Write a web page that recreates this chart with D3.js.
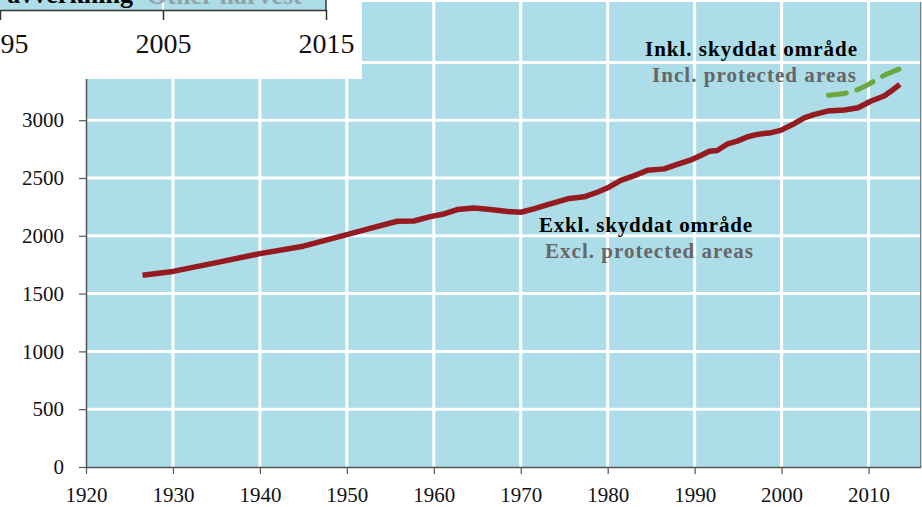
<!DOCTYPE html>
<html><head><meta charset="utf-8">
<script src="https://cdn.jsdelivr.net/npm/d3@7/dist/d3.min.js"></script>
<style>html,body{margin:0;padding:0;background:#fff;}svg{display:block;}</style>
</head><body>
<svg id="c" width="922" height="507"></svg>
<script>
// ---- data ----
const exklYears = [1926.5,1930,1935,1940,1945,1950,1953,1955.8,1957.7,1959.6,1961,1962.7,1964.6,1966.5,1968.5,1970,1971.5,1973.1,1975.4,1977.3,1978.8,1980,1981.5,1983,1984.6,1986.5,1988,1989.5,1990.7,1991.7,1992.6,1993.8,1994.9,1996.1,1997.2,1998.8,1999.9,2001.5,2002.6,2003.8,2005.3,2007.2,2008.8,2010.3,2011.8,2012.6,2013.6];
const exklValues = [1658,1692,1768,1846,1910,2010,2070,2126,2128,2166,2186,2227,2241,2227,2210,2204,2233,2270,2320,2337,2377,2415,2480,2518,2567,2579,2617,2654,2695,2732,2738,2796,2819,2857,2877,2892,2912,2972,3021,3050,3079,3088,3108,3166,3209,3252,3310];
const inklYears = [2005.4,2007,2008,2009,2010,2011,2012,2013.5];
const inklValues = [3215,3228,3245,3272,3310,3355,3395,3442];
const xTicks = [1920,1930,1940,1950,1960,1970,1980,1990,2000,2010];
const yTicks = [0,500,1000,1500,2000,2500,3000];
const yGrid = [500,1000,1500,2000,2500,3000,3500];
const insetTicks = [1995,2005,2015];
const labels = {
  inklSv: "Inkl. skyddat område", inklEn: "Incl. protected areas",
  exklSv: "Exkl. skyddat område", exklEn: "Excl. protected areas",
  insetSv: "avverkning", insetEn: "Other harvest"
};

const svg = d3.select("#c");
const font = "'Liberation Serif','Times New Roman',serif";
const x = d3.scaleLinear().domain([1920, 2016]).range([86, 920.7]);
const y = d3.scaleLinear().domain([0, 4000]).range([467, 4.6]);

// plot background
svg.append("rect").attr("x", x(1920)).attr("y", 2).attr("width", x(2016)-x(1920)).attr("height", y(0)-2).attr("fill", "#acdde8");

// grid
svg.append("g").selectAll("line").data(xTicks.slice(1)).join("line")
  .attr("x1", d=>x(d)).attr("x2", d=>x(d)).attr("y1", 2).attr("y2", y(0))
  .attr("stroke", "#fff").attr("stroke-width", 3);
svg.append("g").selectAll("line").data(yGrid).join("line")
  .attr("x1", x(1920)).attr("x2", x(2016)).attr("y1", d=>y(d)).attr("y2", d=>y(d))
  .attr("stroke", "#fff").attr("stroke-width", 3);

// right border
svg.append("line").attr("x1", x(2016)).attr("x2", x(2016)).attr("y1", 2).attr("y2", y(0))
  .attr("stroke", "#6b7a80").attr("stroke-width", 1.2);

// lines
const line = d3.line().x(d=>x(d[0])).y(d=>y(d[1])).curve(d3.curveLinear);
svg.append("path").datum(exklYears.map((v,i)=>[v, exklValues[i]]))
  .attr("d", line).attr("fill", "none").attr("stroke", "#951b21").attr("stroke-width", 5.5)
  .attr("stroke-linejoin", "round");
svg.append("path").datum(inklYears.map((v,i)=>[v, inklValues[i]]))
  .attr("d", line).attr("fill", "none").attr("stroke", "#6ea73f").attr("stroke-width", 5)
  .attr("stroke-dasharray", "18,11").attr("stroke-linecap", "round");

// axes
const ax = svg.append("g").attr("transform", `translate(0,${y(0)})`)
  .call(d3.axisBottom(x).tickValues(xTicks).tickFormat(d3.format("d")).tickSize(7).tickSizeOuter(0));
ax.select(".domain").attr("stroke", "#555").attr("stroke-width", 1.5);
ax.selectAll(".tick line").attr("stroke", "#555").attr("stroke-width", 1.2);
ax.selectAll("text").attr("y", 35).attr("dy", null).attr("font-family", font).attr("font-size", 21).attr("fill", "#111");

const ay = svg.append("g").attr("transform", `translate(${x(1920)},0)`)
  .call(d3.axisLeft(y).tickValues(yTicks).tickFormat(d3.format("d")).tickSize(7).tickPadding(15).tickSizeOuter(0));
ay.select(".domain").attr("stroke", "#555").attr("stroke-width", 1.5);
ay.selectAll(".tick line").attr("stroke", "#555").attr("stroke-width", 1.2);
ay.selectAll("text").attr("font-family", font).attr("font-size", 21).attr("fill", "#111");

// annotations
function lab(t, xx, yy, col, w) {
  svg.append("text").attr("x", xx).attr("y", yy).text(t)
    .attr("font-family", font).attr("font-weight", "bold").attr("font-size", 21)
    .attr("fill", col).attr("textLength", w).attr("lengthAdjust", "spacing");
}
lab(labels.inklSv, 645, 56, "#000", 212);
lab(labels.inklEn, 652, 82, "#666", 204);
lab(labels.exklSv, 539, 232, "#000", 213);
lab(labels.exklEn, 545, 258, "#666", 208);

// inset fragment (top-left)
const ix = d3.scaleLinear().domain([1995, 2015]).range([0, 326]);
svg.append("rect").attr("x", 0).attr("y", 0).attr("width", 362).attr("height", 79).attr("fill", "#fff");
svg.append("rect").attr("x", 0).attr("y", 0).attr("width", ix(2015)).attr("height", 10).attr("fill", "#acdde8");
svg.append("line").attr("x1", ix(2005)).attr("x2", ix(2005)).attr("y1", 0).attr("y2", 10).attr("stroke", "#fff").attr("stroke-width", 2);
svg.append("text").attr("x", 133).attr("y", 3).attr("text-anchor", "end").text(labels.insetSv)
  .attr("font-family", font).attr("font-weight", "bold").attr("font-size", 26).attr("fill", "#000");
svg.append("text").attr("x", 147).attr("y", 4).text(labels.insetEn)
  .attr("font-family", font).attr("font-weight", "bold").attr("font-size", 26).attr("fill", "#93a2a6");
svg.append("line").attr("x1", ix(2015)).attr("x2", ix(2015)).attr("y1", 0).attr("y2", 10).attr("stroke", "#333").attr("stroke-width", 1.5);
const iax = svg.append("g").attr("transform", "translate(0,10)")
  .call(d3.axisBottom(ix).tickValues(insetTicks).tickFormat(d3.format("d")).tickSize(10).tickSizeOuter(0));
iax.select(".domain").attr("stroke", "#333").attr("stroke-width", 1.5);
iax.selectAll(".tick line").attr("stroke", "#333").attr("stroke-width", 1.5);
iax.selectAll("text").attr("y", 43).attr("dy", null).attr("font-family", font).attr("font-size", 28).attr("fill", "#111");
</script>
</body></html>
